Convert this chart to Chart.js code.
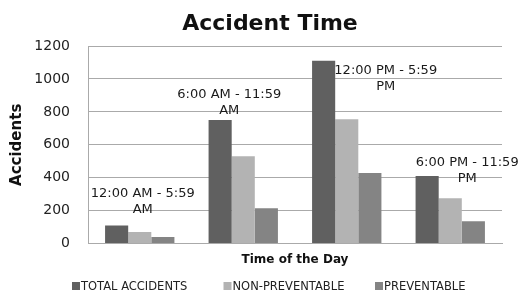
<!DOCTYPE html>
<html>
<head>
<meta charset="utf-8">
<script src="https://cdn.jsdelivr.net/npm/chart.js@4/dist/chart.umd.min.js"></script>
<style>
  html, body { margin: 0; padding: 0; background: #fff; }
  #wrap { width: 523px; height: 295px; }
</style>
</head>
<body>
<div id="wrap"><canvas id="accident-chart"></canvas></div>
<script>
// Chart data
const chartTitle = "Accident Time";
const timeSlots = [
  ["12:00 AM - 5:59", "AM"],
  ["6:00 AM - 11:59", "AM"],
  ["12:00 PM - 5:59", "PM"],
  ["6:00 PM - 11:59", "PM"],
];
const totalAccidents = [110, 750, 1110, 410];
const nonPreventable = [70, 530, 755, 275];
const preventable = [40, 215, 428, 135];
const yTicks = [0, 200, 400, 600, 800, 1000, 1200];

// where the category labels sit inside the plot (x offset px, y in data units)
const labelSpots = [
  { dx: 3, v: 306 },
  { dx: -14, v: 906 },
  { dx: 39, v: 1053 },
  { dx: 17, v: 490 },
];

const fontFamily = "'DejaVu Sans', sans-serif";

// Draws the title, the time slot labels and the legend row
const extras = {
  id: "extras",
  afterDatasetsDraw(chart) {
    const { ctx, scales, chartArea } = chart;
    ctx.save();

    // title
    ctx.font = `bold 22px ${fontFamily}`;
    ctx.fillStyle = "#111";
    ctx.textAlign = "center";
    ctx.textBaseline = "middle";
    ctx.fillText(chartTitle, 270, 24);

    // time slot labels
    ctx.font = `13px ${fontFamily}`;
    ctx.fillStyle = "#1a1a1a";
    timeSlots.forEach((lines, i) => {
      const x = scales.x.getPixelForValue(i) + labelSpots[i].dx;
      const y = scales.y.getPixelForValue(labelSpots[i].v);
      lines.forEach((line, j) => ctx.fillText(line, x, y + j * 16));
    });

    // legend, fixed width columns
    ctx.font = `11.5px ${fontFamily}`;
    ctx.textAlign = "left";
    const ly = chart.height - 9;
    chart.data.datasets.forEach((ds, i) => {
      const x = chartArea.left - 16 + i * 151.5;
      ctx.fillStyle = ds.backgroundColor;
      ctx.fillRect(x, ly - 4, 8, 8);
      ctx.fillStyle = "#222";
      ctx.fillText(ds.label, x + 9, ly + 1);
    });
    ctx.restore();
  },
};

const chart = new Chart(document.querySelector("#accident-chart"), {
  type: "bar",
  data: {
    labels: timeSlots.map((l) => l.join(" ")),
    datasets: [
      { label: "TOTAL ACCIDENTS", data: totalAccidents, backgroundColor: "#606060" },
      { label: "NON-PREVENTABLE", data: nonPreventable, backgroundColor: "#b3b3b3" },
      { label: "PREVENTABLE", data: preventable, backgroundColor: "#848484" },
    ],
  },
  options: {
    responsive: true,
    maintainAspectRatio: false,
    animation: false,
    layout: { padding: { left: 4, right: 21, top: 46, bottom: 28 } },
    datasets: { bar: { categoryPercentage: 0.67, barPercentage: 1 } },
    plugins: {
      title: { display: false },
      legend: { display: false },
      tooltip: { enabled: false },
    },
    scales: {
      x: {
        grid: { display: false, drawTicks: false },
        border: { color: "#aaa" },
        ticks: { display: false },
        title: {
          display: true,
          text: "Time of the Day",
          color: "#111",
          font: { family: fontFamily, size: 12, weight: "bold" },
          padding: { top: 9, bottom: 0 },
        },
      },
      y: {
        min: 0,
        max: 1200,
        afterBuildTicks: (axis) => {
          axis.ticks = yTicks.map((v) => ({ value: v }));
        },
        afterFit: (axis) => {
          axis.width = 84;
        },
        grid: { color: "#aaa", drawTicks: false },
        border: { color: "#aaa" },
        ticks: {
          color: "#222",
          padding: 18,
          font: { family: fontFamily, size: 14 },
          callback: (v) => String(v),
        },
        title: {
          display: true,
          text: "Accidents",
          color: "#111",
          font: { family: fontFamily, size: 15, weight: "bold" },
          padding: { top: 4, bottom: 0 },
        },
      },
    },
  },
  plugins: [extras],
});
</script>
</body>
</html>
